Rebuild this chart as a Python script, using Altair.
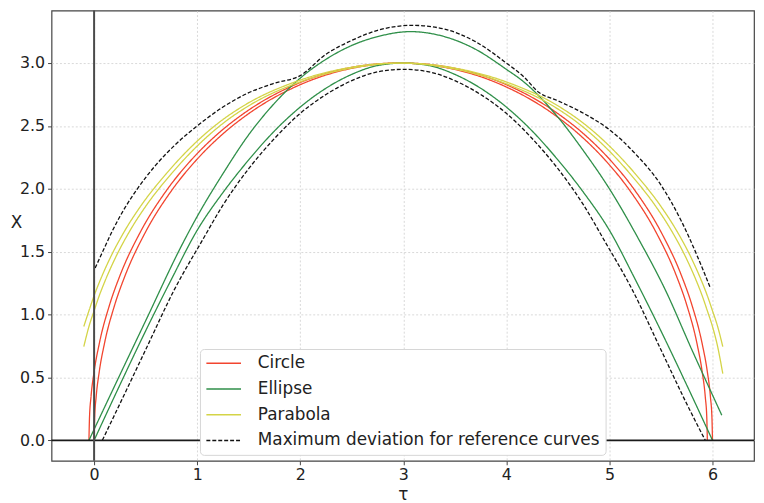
import altair as alt
import pandas as pd

# ---------------- data ----------------
types = ["Circle", "Ellipse", "Parabola", "Maximum deviation for reference curves"]
type_colors = ["#f2452f", "#2f8f49", "#d4d447", "#111111"]
type_dashes = [[1, 0], [1, 0], [1, 0], [4, 2]]

circle_a_tau = [-0.05, -0.045, -0.03, 0.0, 0.05, 0.15, 0.25, 0.45, 0.7, 0.95, 1.2, 1.45, 1.95, 2.45, 2.95,
                3.45, 3.95, 4.45, 4.7, 4.95, 5.2, 5.45, 5.65, 5.75, 5.85, 5.9, 5.93, 5.945, 5.95]
circle_a_x = [0.0, 0.173, 0.346, 0.545, 0.768, 1.077, 1.308, 1.658, 1.984, 2.236, 2.437, 2.598, 2.828, 2.958, 3.0,
              2.958, 2.828, 2.598, 2.437, 2.236, 1.984, 1.658, 1.308, 1.077, 0.768, 0.545, 0.346, 0.173, 0.0]

circle_b_tau = [0.0, 0.005, 0.02, 0.05, 0.1, 0.2, 0.3, 0.5, 0.75, 1.0, 1.25, 1.5, 2.0, 2.5, 3.0,
                3.5, 4.0, 4.5, 4.75, 5.0, 5.25, 5.5, 5.7, 5.8, 5.9, 5.95, 5.98, 5.995, 6.0]
circle_b_x = [0.0, 0.173, 0.346, 0.545, 0.768, 1.077, 1.308, 1.658, 1.984, 2.236, 2.437, 2.598, 2.828, 2.958, 3.0,
              2.958, 2.828, 2.598, 2.437, 2.236, 1.984, 1.658, 1.308, 1.077, 0.768, 0.545, 0.346, 0.173, 0.0]

ellipse_a_tau = [-0.05, 0.25, 0.5, 0.85, 1.0, 1.25, 1.5, 1.75, 2.0, 2.25, 2.5, 2.75, 3.07, 3.4, 3.7, 4.0,
                 4.17, 4.5, 4.75, 5.0, 5.29, 5.54, 5.8, 6.09]
ellipse_a_x = [0.0, 0.52, 0.95, 1.55, 1.78, 2.12, 2.43, 2.68, 2.88, 3.03, 3.14, 3.21, 3.25, 3.21, 3.11, 2.95,
               2.85, 2.57, 2.30, 2.0, 1.59, 1.2, 0.72, 0.2]

ellipse_b_tau = [0.0, 0.25, 0.5, 0.75, 1.0, 1.25, 1.5, 1.75, 2.0, 2.25, 2.5, 2.75, 3.0, 3.25, 3.5, 3.75,
                 4.0, 4.25, 4.5, 4.75, 5.0, 5.25, 5.5, 5.75, 6.0]
ellipse_b_x = [0.0, 0.44, 0.87, 1.28, 1.67, 1.97, 2.23, 2.46, 2.65, 2.80, 2.91, 2.98, 3.0, 2.98, 2.91, 2.80,
               2.65, 2.46, 2.23, 1.97, 1.67, 1.28, 0.87, 0.44, 0.0]

parabola_a_tau = [-0.1, -0.05, 0.0, 0.05, 0.15, 0.3, 0.45, 0.7, 0.95, 1.2, 1.45, 1.95, 2.45, 2.95, 3.45,
                  3.95, 4.45, 4.7, 4.95, 5.2, 5.45, 5.6, 5.75, 5.85, 5.9, 5.95, 6.0, 6.05, 6.1]
parabola_a_x = [0.905, 1.03, 1.15, 1.255, 1.44, 1.67, 1.86, 2.12, 2.34, 2.52, 2.66, 2.85, 2.96, 3.0, 2.96,
                2.85, 2.66, 2.52, 2.34, 2.12, 1.86, 1.67, 1.44, 1.255, 1.15, 1.03, 0.905, 0.745, 0.53]

parabola_b_tau = [-0.1, -0.05, 0.0, 0.05, 0.1, 0.2, 0.35, 0.5, 0.75, 1.0, 1.25, 1.5, 2.0, 2.5, 3.0,
                  3.5, 4.0, 4.5, 4.75, 5.0, 5.25, 5.5, 5.65, 5.8, 5.9, 5.95, 6.0, 6.05, 6.1]
parabola_b_x = [0.745, 0.905, 1.03, 1.15, 1.255, 1.44, 1.67, 1.86, 2.12, 2.34, 2.52, 2.66, 2.85, 2.96, 3.0,
                2.96, 2.85, 2.66, 2.52, 2.34, 2.12, 1.86, 1.67, 1.44, 1.255, 1.15, 1.03, 0.905, 0.745]

dev_upper_tau = [0.01, 0.1, 0.18, 0.3, 0.42, 0.6, 0.8, 1.0, 1.25, 1.49, 1.75, 2.0, 2.25, 2.5, 2.75, 3.09,
                 3.4, 3.7, 4.0, 4.17, 4.31, 4.5, 4.75, 5.0, 5.25, 5.5, 5.7, 5.85, 5.98]
dev_upper_x = [1.37, 1.53, 1.67, 1.85, 2.0, 2.19, 2.36, 2.5, 2.65, 2.76, 2.84, 2.90, 3.07, 3.18, 3.26, 3.30,
               3.27, 3.17, 3.0, 2.89, 2.77, 2.70, 2.60, 2.47, 2.28, 2.03, 1.74, 1.47, 1.21]

dev_lower_tau = [0.08, 0.25, 0.5, 0.78, 1.05, 1.25, 1.5, 1.75, 2.0, 2.25, 2.5, 2.75, 3.0, 3.25, 3.5, 3.75,
                 4.0, 4.25, 4.5, 4.75, 4.95, 5.22, 5.5, 5.75, 5.93]
dev_lower_x = [0.0, 0.29, 0.72, 1.2, 1.59, 1.87, 2.16, 2.40, 2.60, 2.75, 2.86, 2.93, 2.95, 2.93, 2.86, 2.75,
               2.60, 2.40, 2.16, 1.87, 1.59, 1.2, 0.72, 0.29, 0.0]

x_ticks = [0, 1, 2, 3, 4, 5, 6]
y_ticks = [0.0, 0.5, 1.0, 1.5, 2.0, 2.5, 3.0]

curves = [
    ("Circle", "circle_a", circle_a_tau, circle_a_x),
    ("Circle", "circle_b", circle_b_tau, circle_b_x),
    ("Ellipse", "ellipse_a", ellipse_a_tau, ellipse_a_x),
    ("Ellipse", "ellipse_b", ellipse_b_tau, ellipse_b_x),
    ("Parabola", "parabola_a", parabola_a_tau, parabola_a_x),
    ("Parabola", "parabola_b", parabola_b_tau, parabola_b_x),
    (types[3], "dev_upper", dev_upper_tau, dev_upper_x),
    (types[3], "dev_lower", dev_lower_tau, dev_lower_x),
]

rows = []
for k, (typ, cid, ts, xs) in enumerate(curves):
    for i, (t, v) in enumerate(zip(ts, xs)):
        rows.append({"tau": t, "X": v, "type": typ, "curve": f"{k}_{cid}", "idx": i})
df = pd.DataFrame(rows)

FONT = "DejaVu Sans"

xscale = alt.Scale(domain=[-0.413, 6.403], nice=False, zero=False)
yscale = alt.Scale(domain=[-0.163, 3.417], nice=False, zero=False)

xaxis = alt.Axis(values=x_ticks, title="τ", titleFontSize=17, titleBaseline="alphabetic",
                 titleY=39, titleAnchor="middle", labelPadding=2, format="d")
yaxis = alt.Axis(values=y_ticks, format=".1f", title="X", titleAngle=0, titleX=-36, titleY=214,
                 titleAlign="center", titleBaseline="middle", titleFontSize=17, labelPadding=3)

leg = alt.Legend(
    title=None, orient="none", legendX=150, legendY=342,
    padding=6, rowPadding=8, fillColor="white", strokeColor="#d6d6d6", cornerRadius=4,
    labelFont=FONT, labelFontSize=17, labelColor="#222222", labelLimit=600,
    symbolType="M-2.5,0H2.5", symbolSize=196, symbolStrokeWidth=1.5,
    symbolOffset=9.5, labelOffset=26,
)

lines = alt.Chart(df).mark_line(strokeWidth=1.3, interpolate="monotone", clip=True).encode(
    x=alt.X("tau:Q", scale=xscale, axis=xaxis),
    y=alt.Y("X:Q", scale=yscale, axis=yaxis),
    color=alt.Color("type:N", scale=alt.Scale(domain=types, range=type_colors), legend=leg),
    strokeDash=alt.StrokeDash("type:N", scale=alt.Scale(domain=types, range=type_dashes), legend=leg),
    detail="curve:N",
    order="idx:Q",
)

vline = alt.Chart(pd.DataFrame({"tau": [0.0]})).mark_rule(color="#4a4a4a", strokeWidth=2).encode(
    x=alt.X("tau:Q", scale=xscale, axis=xaxis)
)
hline = alt.Chart(pd.DataFrame({"X": [0.0]})).mark_rule(color="#1a1a1a", strokeWidth=1.8).encode(
    y=alt.Y("X:Q", scale=yscale, axis=yaxis)
)

chart = alt.layer(lines, hline, vline).properties(
    width=710, height=455,
    autosize=alt.AutoSizeParams(type="none"),
    padding={"left": 44, "top": 0, "right": 2, "bottom": 40},
).configure_view(
    stroke="#444444", strokeWidth=1.2
).configure_axis(
    domain=False, tickColor="#444444", tickSize=4, tickWidth=1,
    labelFont=FONT, labelFontSize=16, labelColor="#222222",
    titleFont=FONT, titleColor="#222222", titleFontWeight="normal",
    grid=True, gridColor="#cfcfcf", gridDash=[2, 2], gridWidth=0.8,
)

chart.save("out.html", embed_options={"renderer": "svg", "actions": False})
